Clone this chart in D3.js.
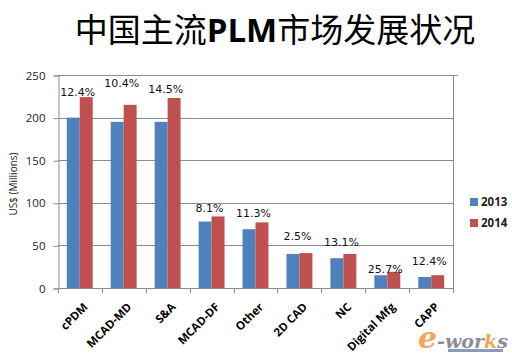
<!DOCTYPE html>
<html>
<head>
<meta charset="utf-8">
<script src="https://cdn.jsdelivr.net/npm/d3@7"></script>
<style>
  body { margin: 0; background: #fff; }
  svg { display: block; }
</style>
</head>
<body>
<svg id="chart" width="512" height="363"></svg>
<script>
// data
const categories = ['cPDM', 'MCAD-MD', 'S&A', 'MCAD-DF', 'Other', '2D CAD', 'NC', 'Digital Mfg', 'CAPP'];
const years = ['2013', '2014'];
const values2013 = [200, 195, 195, 78, 69, 40, 35, 15, 13];
const values2014 = [224, 215, 223, 84, 77, 41, 40, 19, 15];
const growth = ['12.4%', '10.4%', '14.5%', '8.1%', '11.3%', '2.5%', '13.1%', '25.7%', '12.4%'];
// where the growth notes sit, in US$ units (placed by hand in the original)
const growthLabelAt = [225, 236, 229, 89, 83, 56, 49, 17.5, 27];
const yTicks = [0, 50, 100, 150, 200, 250];

const colors = ['#4f81bd', '#c0504d'];

const svg = d3.select('#chart');
const margin = { left: 58, right: 59, top: 75, bottom: 75 };
const W = 512, H = 363;

const x = d3.scaleBand()
  .domain(categories)
  .range([margin.left, W - margin.right])
  .paddingInner(0.41)
  .paddingOuter(0.2);

const xSub = d3.scaleBand()
  .domain(years)
  .range([0, x.bandwidth()]);

const y = d3.scaleLinear()
  .domain([0, 250])
  .range([H - margin.bottom, margin.top]);

// title
const title = svg.append('text')
  .attr('x', 275)
  .attr('y', 42)
  .attr('text-anchor', 'middle')
  .style('font-family', '"Noto Sans CJK SC", sans-serif')
  .style('font-size', '33px')
  .style('fill', '#000');
title.append('tspan').text('中国主流');
title.append('tspan').style('font-weight', 'bold').style('font-family', '"Open Sans", sans-serif').text('PLM');
title.append('tspan').text('市场发展状况');

// gridlines
svg.append('g')
  .selectAll('line')
  .data(yTicks.filter(d => d > 0))
  .enter().append('line')
  .attr('x1', margin.left)
  .attr('x2', d => d === 250 ? W - margin.right + 5 : W - margin.right)
  .attr('y1', d => Math.round(y(d)) + 0.5)
  .attr('y2', d => Math.round(y(d)) + 0.5)
  .style('stroke', '#8c8c8c')
  .style('stroke-width', 1);

// right border
svg.append('line')
  .attr('x1', W - margin.right + 0.5).attr('x2', W - margin.right + 0.5)
  .attr('y1', y(250)).attr('y2', y(0))
  .style('stroke', '#8c8c8c');

// y axis
const yAxis = svg.append('g')
  .attr('transform', 'translate(' + (margin.left + 0.5) + ',0.5)')
  .call(d3.axisLeft(y).tickValues(yTicks).tickSize(5).tickPadding(8));
yAxis.select('.domain').style('stroke', '#8c8c8c');
yAxis.selectAll('.tick line').style('stroke', '#8c8c8c');
yAxis.selectAll('.tick text')
  .style('font-family', '"Open Sans", sans-serif')
  .style('font-size', '11.5px')
  .style('fill', '#222');

svg.append('text')
  .attr('transform', 'translate(17,' + 184 + ') rotate(-90)')
  .attr('text-anchor', 'middle')
  .style('font-family', '"Open Sans", sans-serif')
  .style('font-size', '10px')
  .style('fill', '#222')
  .text('US$ (Millions)');

// x axis: ticks between categories
const xAxis = svg.append('g');
xAxis.append('line')
  .attr('x1', margin.left).attr('x2', W - margin.right)
  .attr('y1', Math.round(y(0)) + 0.5).attr('y2', Math.round(y(0)) + 0.5)
  .style('stroke', '#8c8c8c');
xAxis.selectAll('line.tk')
  .data(d3.range(categories.length + 1))
  .enter().append('line')
  .attr('class', 'tk')
  .attr('x1', i => Math.round(margin.left + i * (W - margin.left - margin.right) / categories.length) + 0.5)
  .attr('x2', i => Math.round(margin.left + i * (W - margin.left - margin.right) / categories.length) + 0.5)
  .attr('y1', y(0)).attr('y2', y(0) + 5)
  .style('stroke', '#8c8c8c');

xAxis.selectAll('text.cat')
  .data(categories)
  .enter().append('text')
  .attr('class', 'cat')
  .attr('transform', d => 'translate(' + (x(d) + x.bandwidth() / 2 + 3) + ',' + (y(0) + 14) + ') rotate(-45)')
  .attr('text-anchor', 'end')
  .attr('dy', '0.7em')
  .style('font-family', '"Open Sans", sans-serif')
  .style('font-weight', 'bold')
  .style('font-size', '11.5px')
  .style('fill', '#000')
  .text(d => d);

// bars
const series = [values2013, values2014];
const groups = svg.append('g')
  .selectAll('g')
  .data(categories)
  .enter().append('g')
  .attr('transform', d => 'translate(' + x(d) + ',0)');

groups.selectAll('rect')
  .data((d, i) => years.map((yr, k) => ({ yr: yr, value: series[k][i], k: k })))
  .enter().append('rect')
  .attr('x', d => xSub(d.yr))
  .attr('width', xSub.bandwidth())
  .attr('y', d => y(d.value))
  .attr('height', d => y(0) - y(d.value))
  .style('fill', d => colors[d.k]);

// growth notes
svg.append('g')
  .selectAll('text')
  .data(categories)
  .enter().append('text')
  .attr('x', d => x(d) + x.bandwidth() / 2 - 2)
  .attr('y', (d, i) => y(growthLabelAt[i]))
  .attr('text-anchor', 'middle')
  .style('font-family', '"DejaVu Sans", sans-serif')
  .style('font-size', '11px')
  .style('fill', '#111')
  .text((d, i) => growth[i]);

// legend
const legend = svg.append('g')
  .selectAll('g')
  .data(years)
  .enter().append('g')
  .attr('transform', (d, i) => 'translate(470,' + (202 + i * 21) + ')');
legend.append('rect')
  .attr('x', 0).attr('y', -4)
  .attr('width', 8).attr('height', 8)
  .style('fill', (d, i) => colors[i]);
legend.append('text')
  .attr('x', 11).attr('y', 0).attr('dy', '0.35em')
  .style('font-family', '"Open Sans", sans-serif')
  .style('font-size', '11.5px')
  .style('font-weight', 'bold')
  .style('fill', '#222')
  .text(d => d);

// e-works mark
const logo = svg.append('g').attr('transform', 'translate(418,348)');
logo.append('rect')
  .attr('x', 30).attr('y', 1).attr('width', 55).attr('height', 3)
  .style('fill', '#8a9bb8');
const lt = logo.append('text')
  .style('font-family', '"DejaVu Serif", serif')
  .style('font-style', 'italic')
  .style('font-weight', 'bold');
lt.append('tspan').style('font-size', '30px').style('fill', '#f2a65a').text('e');
lt.append('tspan').style('font-size', '19px').style('fill', '#8c8c96').text('-wor');
lt.append('tspan').style('font-size', '19px').style('fill', '#f2a65a').text('k');
lt.append('tspan').style('font-size', '19px').style('fill', '#8c8c96').text('s');
</script>
</body>
</html>
